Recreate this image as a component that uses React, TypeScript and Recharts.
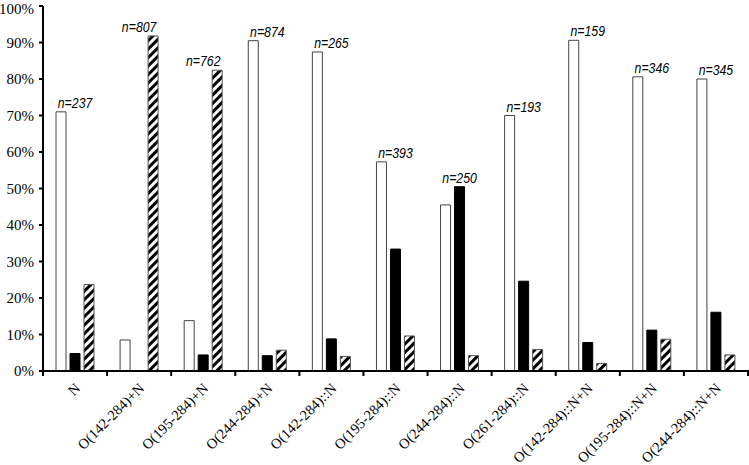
import { ComposedChart, Bar, Line, XAxis, YAxis, LabelList } from "recharts";

const categories = [
  "N",
  "O(142-284)+N",
  "O(195-284)+N",
  "O(244-284)+N",
  "O(142-284)::N",
  "O(195-284)::N",
  "O(244-284)::N",
  "O(261-284)::N",
  "O(142-284)::N+N",
  "O(195-284)::N+N",
  "O(244-284)::N+N"
];
const whiteValues = [71, 8.5, 13.8, 90.5, 87.4, 57.3, 45.5, 70, 90.6, 80.6, 80];
const blackValues = [4.8, 0, 4.4, 4.2, 8.8, 33.4, 50.5, 24.6, 7.8, 11.2, 16.1];
const hatchedValues = [23.7, 91.8, 82.4, 5.7, 4.0, 9.6, 4.2, 5.9, 2.1, 8.7, 4.4];
const nCounts = [237, 807, 762, 874, 265, 393, 250, 193, 159, 346, 345];
const yTicks = [0, 10, 20, 30, 40, 50, 60, 70, 80, 90, 100];

const data = categories.map((name, i) => ({
  name,
  white: whiteValues[i],
  black: blackValues[i],
  hatched: hatchedValues[i],
  n: nCounts[i],
  top: Math.max(whiteValues[i], blackValues[i], hatchedValues[i])
}));

const serif = "'Liberation Serif', 'Times New Roman', serif";

const XTick = (props: any) => {
  const { x, y, payload, index } = props;
  const half = payload.offset || 0;
  const last = index === categories.length - 1;
  return (
    <g>
      <line x1={x - half} x2={x - half} y1={y - 7} y2={y - 1} stroke="#000" strokeWidth={2} />
      {last && (
        <line x1={x + half} x2={x + half} y1={y - 7} y2={y - 1} stroke="#000" strokeWidth={2} />
      )}
      <g transform={`translate(${x + 6},${y + 12})`}>
        <text textAnchor="end" transform="rotate(-45)" fontFamily={serif} fontSize={14.5} fill="#000">
          {payload.value}
        </text>
      </g>
    </g>
  );
};

const NLabel = (props: any) => {
  const { x, y, value } = props;
  return (
    <text
      transform={`translate(${x},${y - 4}) scale(0.82,1)`}
      textAnchor="middle"
      fontFamily="'Liberation Sans', Arial, sans-serif"
      fontStyle="italic"
      fontSize={15}
      fill="#000"
    >
      n={value}
    </text>
  );
};

export default function App() {
  return (
    <div style={{ position: "absolute", left: 0, top: 0, background: "#fff" }}>
      <ComposedChart
        width={749}
        height={465}
        data={data}
        margin={{ top: 6, right: 1, left: 0, bottom: 0 }}
        barSize={10}
        barGap={4}
      >
        <defs>
          <pattern id="hatch" width="6" height="6" patternUnits="userSpaceOnUse" patternTransform="rotate(45)">
            <rect width="6" height="6" fill="#fff" />
            <rect width="3" height="6" fill="#000" />
          </pattern>
        </defs>
        <XAxis
          dataKey="name"
          interval={0}
          height={94}
          tickLine={false}
          tickSize={4}
          axisLine={{ stroke: "#000", strokeWidth: 2 }}
          tick={<XTick />}
        />
        <YAxis
          domain={[0, 100]}
          ticks={yTicks}
          width={43}
          tickSize={4}
          tickMargin={5}
          tickFormatter={(v: number) => `${v}%`}
          axisLine={{ stroke: "#000", strokeWidth: 2 }}
          tickLine={{ stroke: "#000", strokeWidth: 2 }}
          tick={{ fill: "#000", fontFamily: serif, fontSize: 15 }}
        />
        <Bar dataKey="white" fill="#fff" stroke="#444" strokeWidth={1} isAnimationActive={false} />
        <Bar dataKey="black" fill="#000" stroke="#000" strokeWidth={1} isAnimationActive={false} />
        <Bar dataKey="hatched" fill="url(#hatch)" stroke="#555" strokeWidth={1} isAnimationActive={false} />
        <Line
          dataKey="top"
          stroke="none"
          dot={false}
          activeDot={false}
          legendType="none"
          isAnimationActive={false}
        >
          <LabelList dataKey="n" content={<NLabel />} />
        </Line>
      </ComposedChart>
    </div>
  );
}
